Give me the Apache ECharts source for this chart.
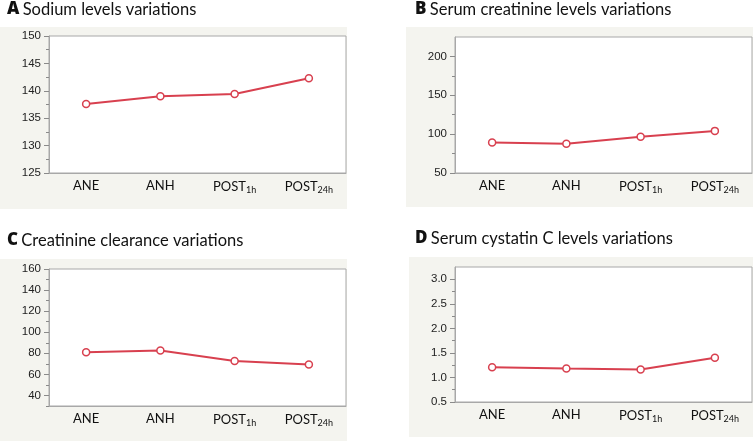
<!DOCTYPE html>
<html><head><meta charset="utf-8">
<script src="https://cdn.jsdelivr.net/npm/echarts@6/dist/echarts.min.js"></script>
<style>html,body{margin:0;padding:0;background:#fff}#c{width:753px;height:441px}</style>
</head><body><div id="c"></div>
<script>
var categories = ['ANE', 'ANH', 'POST1h', 'POST24h'];
var sodium = [137.6, 139.0, 139.4, 142.3];
var creatinine = [89.4, 87.6, 96.5, 104.2];
var clearance = [81.0, 82.7, 72.8, 69.3];
var cystatin = [1.21, 1.18, 1.16, 1.40];
var titlesLetter = ['A', 'B', 'C', 'D'];
var titlesText = ['Sodium levels variations', 'Serum creatinine levels variations', 'Creatinine clearance variations', 'Serum cystatin C levels variations'];
var yMin = [125, 50, 30, 0.5];
var yMax = [150, 225, 160, 3.25];
var sodiumTicks = [125, 130, 135, 140, 145, 150];
var creatinineTicks = [50, 100, 150, 200];
var clearanceTicks = [40, 60, 80, 100, 120, 140, 160];
var cystatinTicks = [0.5, 1.0, 1.5, 2.0, 2.5, 3.0];
var sodiumMinor = [127.5, 132.5, 137.5, 142.5, 147.5];
var creatinineMinor = [75, 125, 175];
var clearanceMinor = [30, 50, 70, 90, 110, 130, 150];
var cystatinMinor = [0.75, 1.25, 1.75, 2.25, 2.75];

var chart = echarts.init(document.getElementById('c'), null, {renderer: 'canvas'});
var series_data = [sodium, creatinine, clearance, cystatin];
var majorTicks = [sodiumTicks, creatinineTicks, clearanceTicks, cystatinTicks];
var minorTicks = [sodiumMinor, creatinineMinor, clearanceMinor, cystatinMinor];
var grids = [
  {left: 49, top: 36, width: 297, height: 137},
  {left: 455, top: 37, width: 297, height: 136},
  {left: 49, top: 269, width: 297, height: 137},
  {left: 455, top: 267, width: 297, height: 135}
];
var bgRects = [
  {x: 0, y: 27, width: 347, height: 182},
  {x: 406, y: 27, width: 347, height: 180},
  {x: 0, y: 259, width: 347, height: 182},
  {x: 409, y: 257, width: 344, height: 180}
];
var titlePos = [[7, 11], [415, 11], [7, 242], [415, 240]];

var lineColor = '#d8404f';
var axisColor = '#a8a8a8';
var labelFont = 'Lato, "Open Sans", sans-serif';

var graphic = [];
bgRects.forEach(function (r) {
  graphic.push({type: 'rect', shape: r, style: {fill: '#f4f4ef'}, z: -10, silent: true});
});
titlePos.forEach(function (p, i) {
  graphic.push({
    type: 'text', left: p[0], top: p[1] - 10, z: 10,
    style: {
      text: '{b|' + titlesLetter[i] + '} {t|' + titlesText[i] + '}',
      rich: {
        b: {fontFamily: 'Open Sans, sans-serif', fontSize: 17, fill: '#111', fontWeight: 800},
        t: {fontFamily: labelFont, fontSize: 16.5, fill: '#111'}
      }
    }
  });
});

function fmtX(v) {
  if (v === 'POST1h') return '{m|POST}{s|1h}';
  if (v === 'POST24h') return '{m|POST}{s|24h}';
  return '{m|' + v + '}';
}

var xAxis = [], yAxis = [], series = [];
grids.forEach(function (g, i) {
  g.show = true; g.backgroundColor = '#fff'; g.borderColor = axisColor; g.borderWidth = 1;
  xAxis.push({
    type: 'category', gridIndex: i, data: categories, boundaryGap: true,
    axisLine: {lineStyle: {color: axisColor}}, axisTick: {show: false},
    axisLabel: {
      interval: 0, margin: 6, color: '#111', formatter: fmtX,
      rich: {
        m: {fontFamily: labelFont, fontSize: 13, color: '#111'},
        s: {fontFamily: labelFont, fontSize: 9, color: '#111', padding: [7, 0, 0, 0]}
      }
    }
  });
  yAxis.push({
    type: 'value', gridIndex: i, min: yMin[i], max: yMax[i], position: 'left', offset: 0,
    axisLine: {show: true, lineStyle: {color: axisColor}},
    axisTick: {show: true, length: 5, customValues: majorTicks[i], lineStyle: {color: '#8a8a8a'}},
    splitLine: {show: false},
    axisLabel: {
      customValues: majorTicks[i],
      color: '#222', fontFamily: 'Liberation Sans, Arial, sans-serif', fontSize: 11.5, margin: 8,
      formatter: function (v) { return i === 3 ? Number(v).toFixed(1) : String(v); }
    }
  });
  yAxis.push({
    type: 'value', gridIndex: i, min: yMin[i], max: yMax[i], position: 'left', offset: 0,
    axisLine: {show: false}, splitLine: {show: false}, axisLabel: {show: false},
    axisTick: {show: true, length: 3, customValues: minorTicks[i], lineStyle: {color: '#8a8a8a'}}
  });
  series.push({
    type: 'line', xAxisIndex: i, yAxisIndex: i * 2, data: series_data[i],
    symbol: 'circle', symbolSize: 7, showSymbol: true,
    lineStyle: {color: lineColor, width: 2},
    itemStyle: {color: '#fff', borderColor: lineColor, borderWidth: 1.5},
    animation: false
  });
});

chart.setOption({
  animation: false,
  grid: grids, xAxis: xAxis, yAxis: yAxis, series: series, graphic: graphic
});
</script></body></html>
